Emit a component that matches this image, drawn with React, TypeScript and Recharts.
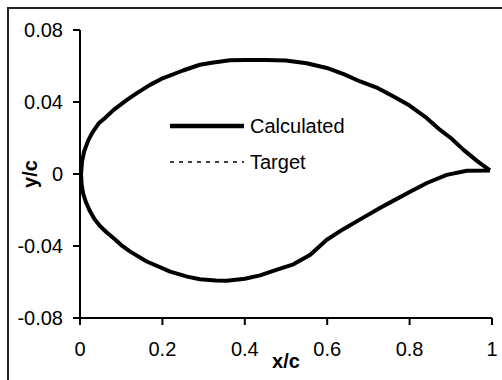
import React from 'react';
import { LineChart, Line, XAxis, YAxis, Label } from 'recharts';

// profil : bord de fuite -> extrados -> bord d'attaque -> intrados -> bord de fuite
const profileX = [
  0.995, 0.965, 0.931, 0.9, 0.874, 0.842, 0.8, 0.761, 0.72, 0.68, 0.64, 0.599, 0.55, 0.5, 0.45, 0.4,
  0.364, 0.32, 0.291, 0.25, 0.202, 0.17, 0.138, 0.113, 0.081, 0.06, 0.045, 0.03, 0.02, 0.01, 0.005, 0.0025,
  0.004, 0.008, 0.015, 0.024, 0.035, 0.049, 0.065, 0.081, 0.1, 0.121, 0.162, 0.219, 0.26, 0.291, 0.33, 0.356, 0.4, 0.437, 0.48,
  0.518, 0.559, 0.599, 0.64, 0.68, 0.729, 0.761, 0.8, 0.842, 0.89, 0.939, 0.995,
];
const profileY = [
  0.002, 0.007, 0.0134, 0.02, 0.0245, 0.031, 0.038, 0.043, 0.048, 0.0514, 0.0555, 0.0589, 0.0615, 0.063, 0.0633, 0.0633,
  0.0632, 0.0618, 0.0607, 0.0575, 0.0533, 0.0495, 0.0449, 0.041, 0.0355, 0.031, 0.028, 0.023, 0.0187, 0.0125, 0.007, 0.0,
  -0.006, -0.0112, -0.016, -0.0206, -0.025, -0.029, -0.0325, -0.0356, -0.0395, -0.043, -0.0486, -0.0542, -0.057, -0.0585, -0.0592, -0.0593, -0.0582, -0.0563, -0.053,
  -0.0502, -0.0449, -0.0365, -0.0305, -0.0252, -0.0187, -0.0148, -0.01, -0.005, -0.0005, 0.0018, 0.002,
];

const xTicks = [0, 0.2, 0.4, 0.6, 0.8, 1];
const yTicks = [-0.08, -0.04, 0, 0.04, 0.08];

const series = [
  { key: 'calculated', name: 'Calculated', width: 4, legendWidth: 4.5, dash: undefined as string | undefined },
  { key: 'target', name: 'Target', width: 1.5, legendWidth: 1.5, dash: '4 5' },
];

const data = profileX.map((x, i) => ({ x, calculated: profileY[i], target: profileY[i] }));

const FONT = '"Liberation Sans", Arial, sans-serif';
const tickStyle = { fontSize: 20, fill: '#000', fontFamily: FONT };
const axisLine = { stroke: '#000', strokeWidth: 2 };

export default function App() {
  return (
    <div style={{ position: 'absolute', left: 0, top: 0, width: 502, height: 380, background: '#fff', overflow: 'hidden', fontFamily: FONT }}>
      <div style={{ position: 'absolute', left: 7, top: 7, width: 520, height: 400, borderLeft: '2px solid #222', borderTop: '2px solid #222' }} />
      <div style={{ position: 'absolute', left: 0, top: 0 }}>
        <LineChart width={502} height={380} data={data} margin={{ top: 30, right: 10, bottom: 0, left: 0 }}>
          <XAxis
            dataKey="x"
            type="number"
            domain={[0, 1]}
            ticks={xTicks}
            height={62}
            tick={tickStyle}
            tickSize={7}
            tickMargin={17}
            axisLine={axisLine}
            tickLine={axisLine}
            allowDataOverflow
          >
            <Label
              content={() => (
                <text x={286} y={368} textAnchor="middle" fontFamily={FONT} fontSize={20} fontWeight="bold" fill="#000">
                  x/c
                </text>
              )}
            />
          </XAxis>
          <YAxis
            type="number"
            domain={[-0.08, 0.08]}
            ticks={yTicks}
            width={80}
            tick={tickStyle}
            tickSize={7}
            tickMargin={10}
            axisLine={axisLine}
            tickLine={axisLine}
            allowDataOverflow
          >
            <Label
              content={() => (
                <text x={37} y={174} transform="rotate(-90 37 174)" textAnchor="middle" fontFamily={FONT} fontSize={20} fontWeight="bold" fill="#000">
                  y/c
                </text>
              )}
            />
          </YAxis>
          {series.slice().reverse().map((s) => (
            <Line
              key={s.key}
              type="linear"
              dataKey={s.key}
              name={s.name}
              stroke="#000"
              strokeWidth={s.width}
              strokeDasharray={s.dash}
              strokeLinejoin="round"
              dot={false}
              activeDot={false}
              isAnimationActive={false}
            />
          ))}
        </LineChart>
      </div>
      <div style={{ position: 'absolute', left: 168, top: 108, fontSize: 20, color: '#000' }}>
        {series.map((s) => (
          <div key={s.key} style={{ display: 'flex', alignItems: 'center', height: 36 }}>
            <svg width={78} height={10} style={{ marginRight: 4 }}>
              <line x1={2} y1={5} x2={76} y2={5} stroke="#000" strokeWidth={s.legendWidth} strokeDasharray={s.dash} />
            </svg>
            <span>{s.name}</span>
          </div>
        ))}
      </div>
    </div>
  );
}
